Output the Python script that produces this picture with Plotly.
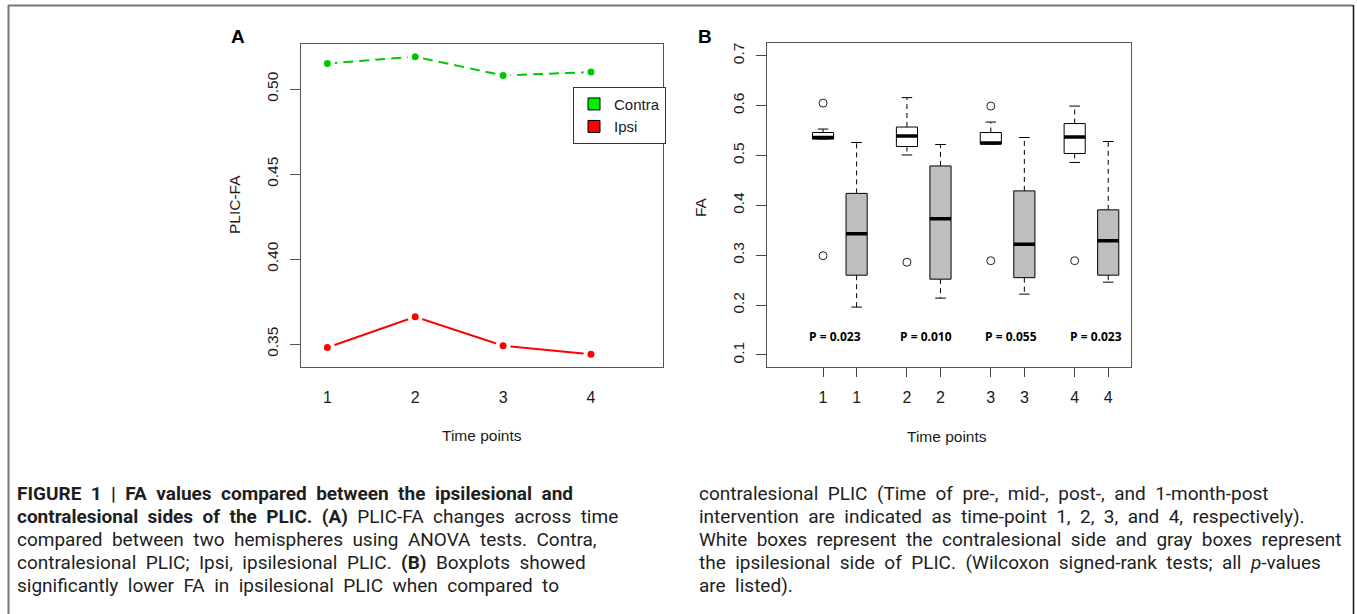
import plotly.graph_objects as go

W, H = 1357, 614

# ---------------- data ----------------
time_points = [1, 2, 3, 4]
time_labels = ["1", "2", "3", "4"]
contra_fa = [0.515, 0.519, 0.508, 0.510]
ipsi_fa = [0.348, 0.366, 0.349, 0.344]

box_pos = [1, 2, 3.5, 4.5, 6, 7, 8.5, 9.5]
box_labels = ["1", "1", "2", "2", "3", "3", "4", "4"]
box_side = ["contra", "ipsi"] * 4
box_q1 = [0.533, 0.260, 0.518, 0.252, 0.523, 0.255, 0.504, 0.260]
box_med = [0.536, 0.343, 0.539, 0.373, 0.525, 0.322, 0.537, 0.329]
box_q3 = [0.546, 0.424, 0.557, 0.479, 0.546, 0.429, 0.564, 0.391]
box_lo = [0.533, 0.196, 0.501, 0.214, 0.523, 0.222, 0.486, 0.246]
box_hi = [0.553, 0.526, 0.616, 0.522, 0.567, 0.536, 0.599, 0.528]
out_pos = [1, 1, 3.5, 6, 6, 8.5]
out_val = [0.605, 0.299, 0.286, 0.599, 0.289, 0.289]
p_labels = ["P = 0.023", "P = 0.010", "P = 0.055", "P = 0.023"]
p_x = [1.35, 4.07, 6.59, 9.15]
p_y = [0.138, 0.138, 0.138, 0.138]

caption_left = [
    "<b>FIGURE 1 | FA values compared between the ipsilesional and</b>",
    "<b>contralesional sides of the PLIC. (A)</b> PLIC-FA changes across time",
    "compared between two hemispheres using ANOVA tests. Contra,",
    "contralesional PLIC; Ipsi, ipsilesional PLIC. <b>(B)</b> Boxplots showed",
    "significantly lower FA in ipsilesional PLIC when compared to",
]
caption_right = [
    "contralesional PLIC (Time of pre-, mid-, post-, and 1-month-post",
    "intervention are indicated as time-point 1, 2, 3, and 4, respectively).",
    "White boxes represent the contralesional side and gray boxes represent",
    "the ipsilesional side of PLIC. (Wilcoxon signed-rank tests; all <i>p</i>-values",
    "are listed).",
]

# ---------------- helpers ----------------
def px(x):
    return x / W

def py(y):
    return 1 - y / H

def wide(s):
    # the caption font has wide word spacing
    return s.replace(" ", " \u00a0")

FONT = "Liberation Sans, Arial, sans-serif"
TXT = "#1a1a1a"
GREEN = "#00C800"
GREEN_LEG = "#00EE00"
RED = "#FF0000"
BOXW = 0.63

fig = go.Figure()

# ---------------- panel A ----------------
fig.add_trace(go.Scatter(
    x=time_points, y=contra_fa, mode="lines+markers", xaxis="x", yaxis="y",
    line=dict(color=GREEN, width=2, dash="10px,6px"),
    marker=dict(color=GREEN, size=11, line=dict(color="white", width=4)),
    showlegend=False, hoverinfo="skip"))
fig.add_trace(go.Scatter(
    x=time_points, y=ipsi_fa, mode="lines+markers", xaxis="x", yaxis="y",
    line=dict(color=RED, width=2),
    marker=dict(color=RED, size=11, line=dict(color="white", width=4)),
    showlegend=False, hoverinfo="skip"))
for name, col in [("Contra", GREEN_LEG), ("Ipsi", RED)]:
    fig.add_trace(go.Scatter(
        x=[None], y=[None], mode="markers", xaxis="x", yaxis="y", name=name,
        marker=dict(symbol="square", size=12, color=col, line=dict(color="black", width=1))))

# ---------------- panel B ----------------
for i, p in enumerate(box_pos):
    fill = "white" if box_side[i] == "contra" else "#BEBEBE"
    fig.add_trace(go.Box(
        x=[p], q1=[box_q1[i]], median=[box_med[i]], q3=[box_q3[i]],
        lowerfence=[box_q1[i]], upperfence=[box_q3[i]],
        width=BOXW, fillcolor=fill, line=dict(color="black", width=1),
        whiskerwidth=0, boxpoints=False, xaxis="x2", yaxis="y2",
        showlegend=False, hoverinfo="skip"))

wx, wy = [], []
sx, sy = [], []
mx, my = [], []
for i, p in enumerate(box_pos):
    if box_hi[i] > box_q3[i]:
        wx += [p, p, None]; wy += [box_q3[i], box_hi[i], None]
    if box_lo[i] < box_q1[i]:
        wx += [p, p, None]; wy += [box_q1[i], box_lo[i], None]
    sx += [p - BOXW / 4, p + BOXW / 4, None]; sy += [box_hi[i], box_hi[i], None]
    sx += [p - BOXW / 4, p + BOXW / 4, None]; sy += [box_lo[i], box_lo[i], None]
    mx += [p - BOXW / 2, p + BOXW / 2, None]; my += [box_med[i], box_med[i], None]
fig.add_trace(go.Scatter(x=wx, y=wy, mode="lines", xaxis="x2", yaxis="y2",
                         line=dict(color="black", width=1, dash="5px,4px"),
                         showlegend=False, hoverinfo="skip"))
fig.add_trace(go.Scatter(x=sx, y=sy, mode="lines", xaxis="x2", yaxis="y2",
                         line=dict(color="black", width=1),
                         showlegend=False, hoverinfo="skip"))
fig.add_trace(go.Scatter(x=mx, y=my, mode="lines", xaxis="x2", yaxis="y2",
                         line=dict(color="black", width=3.5),
                         showlegend=False, hoverinfo="skip"))
fig.add_trace(go.Scatter(x=out_pos, y=out_val, mode="markers", xaxis="x2", yaxis="y2",
                         marker=dict(symbol="circle-open", size=8, color="#222222",
                                     line=dict(color="#222222", width=1)),
                         showlegend=False, hoverinfo="skip"))

annotations = []
for t, x, y in zip(p_labels, p_x, p_y):
    annotations.append(dict(x=x, y=y, xref="x2", yref="y2", text=f"<b>{t}</b>",
                            showarrow=False, xanchor="center", yanchor="middle",
                            font=dict(family="Open Sans, sans-serif", size=12, color="black")))

def label(x, y, text, size, angle=0, bold=False):
    return dict(x=px(x), y=py(y), xref="paper", yref="paper",
                text=f"<b>{text}</b>" if bold else text, textangle=angle,
                showarrow=False, xanchor="center", yanchor="middle",
                font=dict(family=FONT, size=size, color=TXT if not bold else "black"))

annotations += [
    label(482, 435, "Time points", 15.5),
    label(947, 436, "Time points", 15.5),
    label(235, 205, "PLIC-FA", 15.5, angle=-90),
    label(701, 207, "FA", 15.5, angle=-90),
    label(238, 36, "A", 19, bold=True),
    label(705, 36, "B", 19, bold=True),
]

line_ys = [493, 516, 539, 562, 585]
CAP_FONT = dict(family="Roboto, sans-serif", size=19, color="#1e1e1e")
for txt, y in zip(caption_left, line_ys):
    annotations.append(dict(x=px(15), y=py(y), xref="paper", yref="paper", text=wide(txt),
                            showarrow=False, xanchor="left", yanchor="middle", font=CAP_FONT))
for txt, y in zip(caption_right, line_ys):
    annotations.append(dict(x=px(697), y=py(y), xref="paper", yref="paper", text=wide(txt),
                            showarrow=False, xanchor="left", yanchor="middle", font=CAP_FONT))

shapes = [
    dict(type="line", xref="paper", yref="paper", x0=px(8), x1=px(1353), y0=py(5.5), y1=py(5.5),
         line=dict(color="#777777", width=2)),
    dict(type="line", xref="paper", yref="paper", x0=px(8.5), x1=px(8.5), y0=py(5), y1=0,
         line=dict(color="#777777", width=2)),
    dict(type="line", xref="paper", yref="paper", x0=px(1353.5), x1=px(1353.5), y0=py(5), y1=0,
         line=dict(color="#111111", width=1.5)),
]

axis_common = dict(showline=True, mirror=True, linecolor="#555555", linewidth=1,
                   showgrid=False, zeroline=False)
XTF = dict(family=FONT, size=16, color=TXT)
YTF = dict(family=FONT, size=15.5, color=TXT)

fig.update_layout(
    width=W, height=H, margin=dict(l=0, r=0, t=0, b=0), autosize=False,
    paper_bgcolor="white", plot_bgcolor="white", boxmode="overlay",
    xaxis=dict(domain=[px(301), px(663)], range=[0.70, 4.82], anchor="y",
               tickvals=time_points, ticktext=time_labels, ticks="",
               ticklabelstandoff=16, tickfont=XTF, **axis_common),
    yaxis=dict(domain=[py(367), py(44)], range=[0.3365, 0.5265], anchor="x",
               tickvals=[0.35, 0.40, 0.45, 0.50], tickformat=".2f", ticks="outside",
               ticklen=10, tickcolor="#555555", tickangle=-90, ticklabelstandoff=6,
               tickfont=YTF, **axis_common),
    xaxis2=dict(domain=[px(766.7), px(1130.7)], range=[-0.68, 10.17], anchor="y2",
                tickvals=box_pos, ticktext=box_labels, ticks="outside", ticklen=9,
                tickcolor="#444444", ticklabelstandoff=6, tickfont=XTF, **axis_common),
    yaxis2=dict(domain=[py(367.3), py(43.3)], range=[0.0753, 0.7249], anchor="x2",
                tickvals=[0.1, 0.2, 0.3, 0.4, 0.5, 0.6, 0.7], tickformat=".1f",
                ticks="outside", ticklen=10, tickcolor="#444444", tickangle=-90,
                ticklabelstandoff=6, tickfont=YTF, **axis_common),
    legend=dict(x=px(573), y=py(86.7), xanchor="left", yanchor="top",
                bgcolor="white", bordercolor="#333333", borderwidth=1,
                font=dict(family=FONT, size=15, color=TXT)),
    annotations=annotations, shapes=shapes,
)

fig.write_html("out.html")
